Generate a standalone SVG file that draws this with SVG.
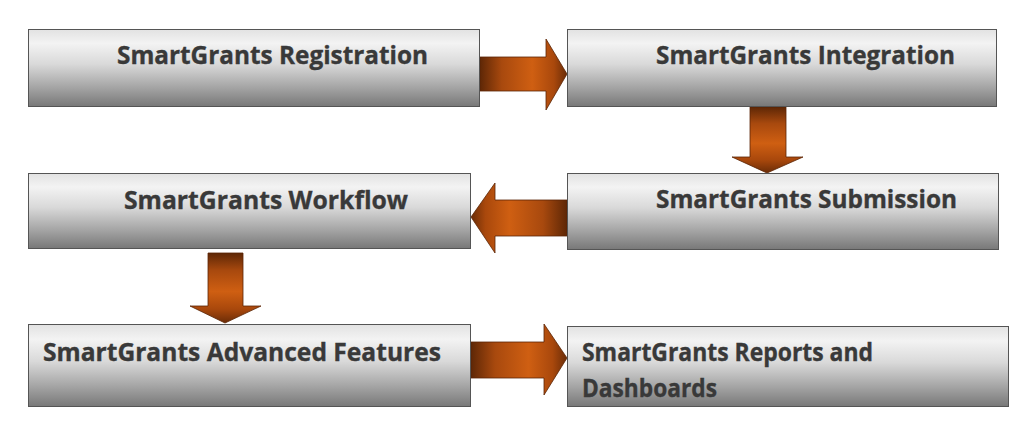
<svg xmlns="http://www.w3.org/2000/svg" width="1024" height="421" viewBox="0 0 1024 421">
<defs>
<linearGradient id="boxg" x1="0" y1="0" x2="0" y2="1">
<stop offset="0" stop-color="#e2e2e2"/>
<stop offset="0.18" stop-color="#f3f3f3"/>
<stop offset="0.45" stop-color="#d9d9d9"/>
<stop offset="0.75" stop-color="#a5a5a5"/>
<stop offset="1" stop-color="#787878"/>
</linearGradient>
<linearGradient id="arR" x1="0" y1="0" x2="1" y2="0">
<stop offset="0" stop-color="#5e2706"/>
<stop offset="0.25" stop-color="#a8490e"/>
<stop offset="0.6" stop-color="#cf5f12"/>
<stop offset="0.85" stop-color="#a9480c"/>
<stop offset="1" stop-color="#6a2c07"/>
</linearGradient>
<linearGradient id="arL" x1="1" y1="0" x2="0" y2="0">
<stop offset="0" stop-color="#5e2706"/>
<stop offset="0.25" stop-color="#a8490e"/>
<stop offset="0.6" stop-color="#cf5f12"/>
<stop offset="0.85" stop-color="#a9480c"/>
<stop offset="1" stop-color="#6a2c07"/>
</linearGradient>
<linearGradient id="arD" x1="0" y1="0" x2="0" y2="1">
<stop offset="0" stop-color="#5e2706"/>
<stop offset="0.25" stop-color="#a8490e"/>
<stop offset="0.55" stop-color="#cf5f12"/>
<stop offset="0.8" stop-color="#a9480c"/>
<stop offset="1" stop-color="#6a2c07"/>
</linearGradient>
</defs>
<style>
.box{fill:url(#boxg);stroke:#555555;stroke-width:1}
.lbl{font-family:"Open Sans","Liberation Sans",sans-serif;font-weight:bold;font-size:25px;fill:#393939;stroke:#393939;stroke-width:0.35}
.arr{stroke:#5a2405;stroke-width:0.8;stroke-linejoin:miter}
</style>
<rect width="1024" height="421" fill="#ffffff"/>
<g id="connectors">
<polygon class="arr" fill="url(#arR)" points="480,57 546,57 546,39 567,74 546,110 546,91 480,91"/>
<polygon class="arr" fill="url(#arD)" points="750,107 786,107 786,157 803,157 767,173 732,157 750,157"/>
<polygon class="arr" fill="url(#arL)" points="567,200 495,200 495,183 471,217 495,253 495,236 567,236"/>
<polygon class="arr" fill="url(#arD)" points="208,253 243,253 243,306 261,306 225,323 190,306 208,306"/>
<polygon class="arr" fill="url(#arR)" points="471,342 544,342 544,324 567,358 544,395 544,378 471,378"/>
</g>
<g id="node-registration">
<rect class="box" x="28.5" y="29.5" width="451" height="77"/>
<text class="lbl" x="117" y="64" textLength="311" lengthAdjust="spacingAndGlyphs">SmartGrants Registration</text>
</g>
<g id="node-integration">
<rect class="box" x="567.5" y="29.5" width="429" height="77"/>
<text class="lbl" x="656" y="64" textLength="299" lengthAdjust="spacingAndGlyphs">SmartGrants Integration</text>
</g>
<g id="node-workflow">
<rect class="box" x="28.5" y="173.5" width="442" height="75"/>
<text class="lbl" x="124" y="209" textLength="284" lengthAdjust="spacingAndGlyphs">SmartGrants Workflow</text>
</g>
<g id="node-submission">
<rect class="box" x="567.5" y="173.5" width="431" height="76"/>
<text class="lbl" x="656" y="208" textLength="301" lengthAdjust="spacingAndGlyphs">SmartGrants Submission</text>
</g>
<g id="node-advanced">
<rect class="box" x="28.5" y="324.5" width="442" height="82"/>
<text class="lbl" x="43" y="361" textLength="398" lengthAdjust="spacingAndGlyphs">SmartGrants Advanced Features</text>
</g>
<g id="node-reports">
<rect class="box" x="567.5" y="326.5" width="441" height="80"/>
<text class="lbl" x="582" y="361" textLength="291" lengthAdjust="spacingAndGlyphs">SmartGrants Reports and</text>
<text class="lbl" x="582" y="397" textLength="135" lengthAdjust="spacingAndGlyphs">Dashboards</text>
</g>
</svg>
